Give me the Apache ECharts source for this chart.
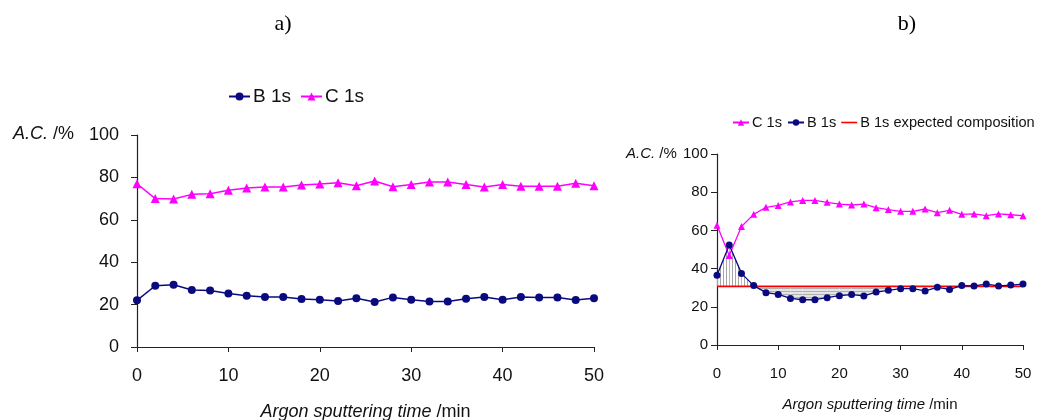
<!DOCTYPE html>
<html><head><meta charset="utf-8">
<script src="https://cdn.jsdelivr.net/npm/echarts@6/dist/echarts.min.js"></script>
<style>html,body{margin:0;padding:0;background:#fff}#c{width:1039px;height:420px}</style>
</head><body><div id="c"></div>
<script>
// Argon sputtering time (min)
const times = [0,2,4,6,8,10,12,14,16,18,20,22,24,26,28,30,32,34,36,38,40,42,44,46,48,50];
// Panel a)
const bA = [22.0,28.9,29.4,26.9,26.7,25.2,24.2,23.6,23.6,22.6,22.3,21.7,23.0,21.2,23.4,22.3,21.5,21.5,22.8,23.6,22.3,23.6,23.4,23.4,22.2,23.0];
const cA = [77.0,70.0,69.8,72.0,72.3,73.9,75.0,75.5,75.5,76.4,76.9,77.5,76.1,78.3,75.6,76.7,77.8,77.8,76.6,75.5,76.7,75.8,75.8,75.8,77.2,76.1];
// Panel b)
const bB = [36.5,52.4,37.5,31.1,27.4,26.5,24.4,23.7,23.7,24.8,25.8,26.4,25.7,27.7,28.6,29.5,29.5,28.3,30.2,29.1,31.1,30.9,31.9,30.9,31.4,31.9];
const cB = [62.7,46.9,62.0,68.4,72.1,73.1,74.9,75.7,75.7,74.7,73.8,73.3,73.8,71.9,70.9,70.0,70.0,71.2,69.3,70.5,68.4,68.6,67.7,68.6,68.2,67.7];
const expectedB = 30.7;
const hatchUpEnd = 6;     // min, end of the excess region
const hatchDownEnd = 28;  // min, end of the deficit region
const yTicks = [0,20,40,60,80,100];
const xTicks = [0,10,20,30,40,50];

const pairs = (v) => times.map((t,i)=>[t,v[i]]);
// hatch segments: [t0, b0, t1, b1, line, kind]  kind 0 = excess (vertical hatch), 1 = deficit
const hatchSegs = [];
for (let i=0;i<times.length-1;i++){
  const t0=times[i], t1=times[i+1];
  if (t1<=hatchUpEnd) hatchSegs.push([t0,Math.max(bB[i],expectedB),t1,Math.max(bB[i+1],expectedB),expectedB,0]);
  else if (t0>=hatchUpEnd && t1<=hatchDownEnd) hatchSegs.push([t0,Math.min(bB[i],expectedB),t1,Math.min(bB[i+1],expectedB),expectedB,1]);
}

function pattern(vertical){
  const c=document.createElement('canvas');
  if(vertical){c.width=3;c.height=2;const g=c.getContext('2d');g.fillStyle='#a6a6a6';g.fillRect(0,0,1,2);}
  else{c.width=2;c.height=3;const g=c.getContext('2d');g.fillStyle='#e4e4e4';g.fillRect(0,0,2,3);g.fillStyle='#b0b0b0';g.fillRect(0,0,2,1);}
  return c;
}
const patV = pattern(true), patH = pattern(false);

const NAVY='#0a0a80', MAG='#ff00ff';
const chart = echarts.init(document.getElementById('c'));
const axisCommon = (fs, m) => ({
  type:'value', min:0, max:100, interval:20,
  axisLine:{show:true,lineStyle:{color:'#222',width:1.2}},
  axisTick:{show:true,length:6,lineStyle:{color:'#222'}},
  axisLabel:{color:'#111',fontSize:fs,fontFamily:'Liberation Sans',margin:m},
  splitLine:{show:false}
});
const xCommon = (fs,m,gap) => ({
  type:'value', min:0, max:50, interval:10,
  axisLine:{show:true,onZero:false,lineStyle:{color:'#222',width:1.2}},
  axisTick:{show:true,length:5,lineStyle:{color:'#222'}},
  axisLabel:{color:'#111',fontSize:fs,fontFamily:'Liberation Sans',margin:m},
  splitLine:{show:false},
  name:'{i|Argon sputtering time} /min', nameLocation:'middle', nameGap:gap,
  nameTextStyle:{color:'#111',fontSize:fs,fontFamily:'Liberation Sans',rich:{i:{fontStyle:'italic',fontSize:fs,fontFamily:'Liberation Sans',color:'#111'}}}
});

chart.setOption({
  animation:false,
  title:[
    {text:'a)',left:278,top:8,textAlign:'center',textStyle:{fontFamily:'Liberation Serif',fontSize:22,fontWeight:'normal',color:'#000'}},
    {text:'b)',left:902,top:8,textAlign:'center',textStyle:{fontFamily:'Liberation Serif',fontSize:22,fontWeight:'normal',color:'#000'}}
  ],
  legend:[
    {data:['B 1s','C 1s'],left:228,top:87,padding:0,width:300,itemWidth:21,itemHeight:10,itemGap:9,
     textStyle:{fontSize:19,fontFamily:'Liberation Sans',color:'#111',padding:[0,0,0,-2]},selectedMode:false},
    {data:['C 1s','B 1s',{name:'B 1s expected composition',icon:'path://M0,0H16V1.6H0Z'}],left:732,top:115,padding:0,width:320,itemWidth:16,itemHeight:8,itemGap:5,
     textStyle:{fontSize:14.6,fontFamily:'Liberation Sans',color:'#111',padding:[0,0,0,-2]},selectedMode:false}
  ],
  grid:[
    {left:137,top:135,width:457,height:212,outerBoundsMode:'none',containLabel:false},
    {left:717,top:154,width:306,height:191,outerBoundsMode:'none',containLabel:false}
  ],
  xAxis:[Object.assign(xCommon(18,20,56),{gridIndex:0}), Object.assign(xCommon(15,21,52),{gridIndex:1})],
  yAxis:[Object.assign(axisCommon(18,18),{gridIndex:0}), Object.assign(axisCommon(15,9),{gridIndex:1})],
  graphic:[
    {type:'text',left:13,top:125,style:{text:'{i|A.C.} /%',rich:{i:{fontStyle:'italic',fontSize:18,fontFamily:'Liberation Sans',fill:'#111'}},fontSize:18,fontFamily:'Liberation Sans',fill:'#111'}},
    {type:'text',left:626,top:146,style:{text:'{i|A.C.} /%',rich:{i:{fontStyle:'italic',fontSize:15,fontFamily:'Liberation Sans',fill:'#111'}},fontSize:15,fontFamily:'Liberation Sans',fill:'#111'}}
  ],
  series:[
    {name:'B 1s',type:'line',xAxisIndex:0,yAxisIndex:0,data:pairs(bA),symbol:'circle',symbolSize:8,
     itemStyle:{color:NAVY},lineStyle:{color:NAVY,width:1.5}},
    {name:'C 1s',type:'line',xAxisIndex:0,yAxisIndex:0,data:pairs(cA),symbol:'triangle',symbolSize:9,
     itemStyle:{color:MAG},lineStyle:{color:MAG,width:1.5}},
    {name:'_hatch',type:'custom',xAxisIndex:1,yAxisIndex:1,data:hatchSegs,silent:true,z:1,
     encode:{x:[0,2],y:[1,3,4]},
     renderItem:function(params,api){
       const t0=api.value(0),b0=api.value(1),t1=api.value(2),b1=api.value(3),L=api.value(4),k=api.value(5);
       const pts=[api.coord([t0,L]),api.coord([t0,b0]),api.coord([t1,b1]),api.coord([t1,L])];
       return {type:'polygon',shape:{points:pts},style:{fill:{image:k===0?patV:patH,repeat:'repeat'},stroke:null}};
     }},
    {name:'B 1s expected composition',type:'line',xAxisIndex:1,yAxisIndex:1,data:times.map(t=>[t,expectedB]),symbol:'none',
     itemStyle:{color:'#ff0000'},lineStyle:{color:'#ff0000',width:1.6},z:3},
    {name:'C 1s',type:'line',xAxisIndex:1,yAxisIndex:1,data:pairs(cB),symbol:'triangle',symbolSize:7,
     itemStyle:{color:MAG},lineStyle:{color:MAG,width:1.3},z:4},
    {name:'B 1s',type:'line',xAxisIndex:1,yAxisIndex:1,data:pairs(bB),symbol:'circle',symbolSize:7,
     itemStyle:{color:NAVY},lineStyle:{color:NAVY,width:1.3},z:5}
  ]
});
</script></body></html>
